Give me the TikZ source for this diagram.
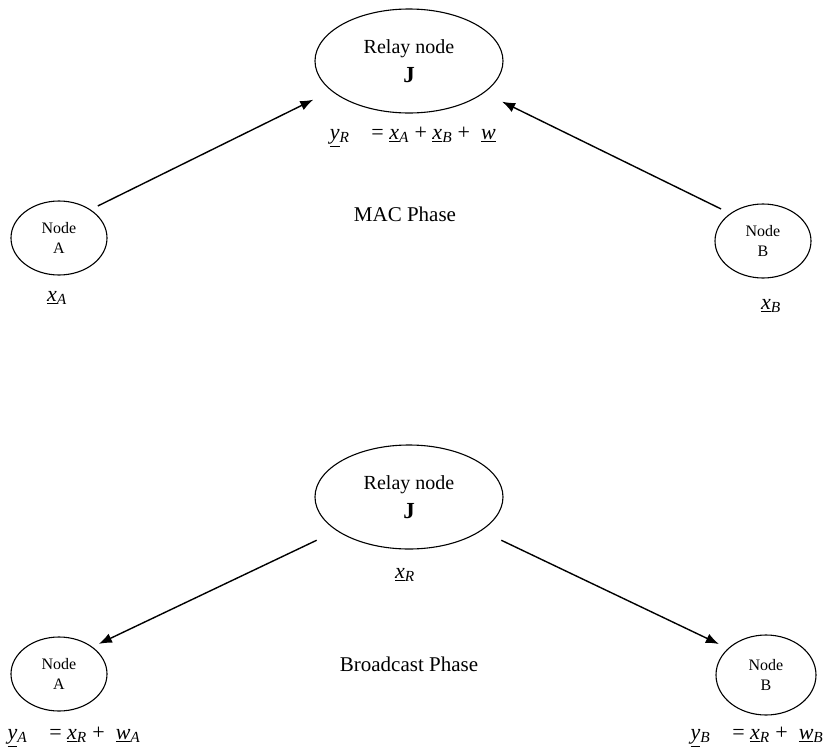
\documentclass[tikz,border=0pt]{standalone}
\usepackage{fontspec}
\setmainfont{Liberation Serif}
\usetikzlibrary{shapes.geometric,arrows.meta}
\newcommand{\uvar}[2]{\underline{\textit{#1}}\textsubscript{\textit{#2}}}

\begin{document}
\begin{tikzpicture}[x=1pt,y=-1pt]
	\tikzstyle{relay} = [ellipse,draw=black,line width=1.1pt,minimum width=188pt,minimum height=104pt,align=center,font=\fontsize{20}{29}\selectfont]
	\tikzstyle{user} = [ellipse,draw=black,line width=1.1pt,minimum width=96pt,minimum height=74pt,align=center,font=\fontsize{16}{20}\selectfont]
	\tikzstyle{phase} = [font=\fontsize{21}{24}\selectfont]
	\tikzstyle{eqn} = [font=\fontsize{22}{24}\selectfont]
	\tikzstyle{link} = [line width=1.4pt,-{Latex[length=13pt,width=10pt]}]
	\useasboundingbox (0,0) rectangle (828,750);
	% MAC phase
	\node[relay] (relay1) at (409,61) {Relay node\\ \textbf{\fontsize{23}{29}\selectfont J}};
	\node[user] (userA1) at (59,238) {Node\\ A};
	\node[user] (userB1) at (763,241) {Node\\ B};
	\node[eqn] (yR) at (413,137) {\uvar{y}{R}\quad = \uvar{x}{A} + \uvar{x}{B} + \ \uvar{w}{}};
	\node[eqn] (xA) at (57,298) {\uvar{x}{A}};
	\node[eqn] (xB) at (771,306) {\uvar{x}{B}};
	\node[phase] (mac) at (405,214) {MAC Phase};
	\draw[link,shorten <=8pt,shorten >=20pt] (userA1.42) -- (relay1.201);
	\draw[link,shorten <=10pt,shorten >=20pt] (userB1.140) -- (relay1.337);
	% broadcast phase
	\node[relay] (relay2) at (409,497) {Relay node\\ \textbf{\fontsize{23}{29}\selectfont J}};
	\node[user] (userA2) at (59,674) {Node\\ A};
	\node[user,minimum width=100pt,minimum height=80pt] (userB2) at (766,675) {Node\\ B};
	\node[eqn] (xR) at (405,575) {\uvar{x}{R}};
	\node[phase] (bc) at (409,664) {Broadcast Phase};
	\node[eqn] (yA) at (74,737) {\uvar{y}{A}\quad = \uvar{x}{R} + \ \uvar{w}{A}};
	\node[eqn] (yB) at (757,737) {\uvar{y}{B}\quad = \uvar{x}{R} + \ \uvar{w}{B}};
	\draw[link,shorten <=22pt,shorten >=7pt] (relay2.205) -- (userA2.39);
	\draw[link,shorten <=22pt,shorten >=10pt] (relay2.335) -- (userB2.145);
\end{tikzpicture}
\end{document}
